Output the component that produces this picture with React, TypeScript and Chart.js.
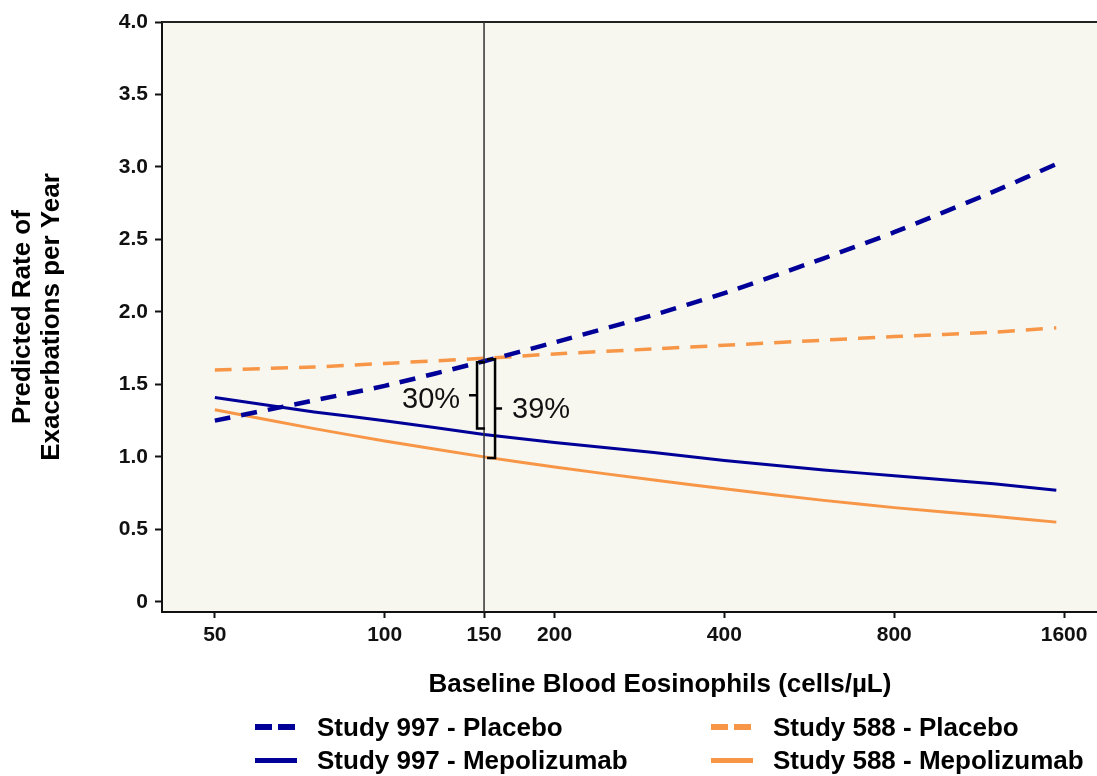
import React, { useEffect, useRef } from "react";
import { Chart, registerables } from "chart.js";

Chart.register(...registerables);

// ---- data ----
const eosinophils = [50, 75, 100, 150, 200, 300, 400, 600, 800, 1200, 1550];
const study997Placebo = [1.25, 1.39, 1.49, 1.66, 1.79, 1.98, 2.13, 2.37, 2.55, 2.83, 3.02];
const study588Placebo = [1.6, 1.62, 1.645, 1.68, 1.71, 1.745, 1.77, 1.805, 1.83, 1.86, 1.89];
const study997Mepolizumab = [1.41, 1.31, 1.25, 1.155, 1.1, 1.03, 0.975, 0.91, 0.87, 0.815, 0.77];
const study588Mepolizumab = [1.325, 1.195, 1.11, 1.0, 0.93, 0.84, 0.78, 0.7, 0.65, 0.59, 0.55];
const xTickValues = [50, 100, 150, 200, 400, 800, 1600];
const yTickValues = [0, 0.5, 1, 1.5, 2, 2.5, 3, 3.5, 4];
const referenceEos = 150;
const reductionLabels = ["30%", "39%"];
const seriesNames = [
  "Study 997 - Placebo",
  "Study 588 - Placebo",
  "Study 997 - Mepolizumab",
  "Study 588 - Mepolizumab",
];
const xTitle = "Baseline Blood Eosinophils (cells/\u00b5L)";
const yTitle = ["Predicted Rate of", "Exacerbations per Year"];

const BLUE = "#000099";
const ORANGE = "#f79646";
const FONT = '"Liberation Sans", Arial, Helvetica, sans-serif';

const toPoints = (ys: number[]) => eosinophils.map((x, i) => ({ x, y: ys[i] }));

const decorPlugin = {
  id: "decor",
  beforeDraw(chart: any) {
    const { ctx, chartArea: a } = chart;
    ctx.save();
    ctx.fillStyle = "#f7f6ef";
    ctx.fillRect(a.left, a.top, a.right - a.left, a.bottom - a.top);
    ctx.restore();
  },
  afterDatasetsDraw(chart: any) {
    const { ctx, chartArea: a, scales } = chart;
    const xs = scales.x;
    const ys = scales.y;
    ctx.save();
    // top frame line
    ctx.strokeStyle = "#222";
    ctx.lineWidth = 2;
    ctx.beginPath();
    ctx.moveTo(a.left, a.top);
    ctx.lineTo(a.right, a.top);
    ctx.stroke();

    // vertical reference line at 150 cells/uL
    const vx = xs.getPixelForValue(referenceEos);
    ctx.strokeStyle = "#333";
    ctx.lineWidth = 1.5;
    ctx.beginPath();
    ctx.moveTo(vx, a.top);
    ctx.lineTo(vx, a.bottom);
    ctx.stroke();

    const i = eosinophils.indexOf(referenceEos);
    ctx.strokeStyle = "#000";
    ctx.lineWidth = 2.5;
    ctx.lineJoin = "miter";

    // left bracket (Study 997)
    const lx = vx - 7;
    const lTop = ys.getPixelForValue(study997Placebo[i]) + 1;
    const lBot = ys.getPixelForValue(study997Mepolizumab[i]) - 6;
    const lMid = (lTop + lBot) / 2;
    ctx.beginPath();
    ctx.moveTo(lx + 8, lTop);
    ctx.lineTo(lx, lTop);
    ctx.lineTo(lx, lBot);
    ctx.lineTo(lx + 8, lBot);
    ctx.moveTo(lx, lMid);
    ctx.lineTo(lx - 8, lMid);
    ctx.stroke();

    // right bracket (Study 588)
    const rx = vx + 11;
    const rTop = ys.getPixelForValue(study588Placebo[i]) + 1;
    const rBot = ys.getPixelForValue(study588Mepolizumab[i]) + 1;
    const rMid = (rTop + rBot) / 2;
    ctx.beginPath();
    ctx.moveTo(rx - 8, rTop);
    ctx.lineTo(rx, rTop);
    ctx.lineTo(rx, rBot);
    ctx.lineTo(rx - 8, rBot);
    ctx.moveTo(rx, rMid);
    ctx.lineTo(rx + 7, rMid);
    ctx.stroke();

    ctx.fillStyle = "#111";
    ctx.font = `29px ${FONT}`;
    ctx.textBaseline = "middle";
    ctx.textAlign = "right";
    ctx.fillText(reductionLabels[0], lx - 17, lMid + 5);
    ctx.textAlign = "left";
    ctx.fillText(reductionLabels[1], rx + 17, rMid + 1);
    ctx.restore();
  },
};

const legendItems = [
  { label: seriesNames[0], color: BLUE, dashed: true, left: 255, top: 727 },
  { label: seriesNames[1], color: ORANGE, dashed: true, left: 711, top: 727 },
  { label: seriesNames[2], color: BLUE, dashed: false, left: 255, top: 760 },
  { label: seriesNames[3], color: ORANGE, dashed: false, left: 711, top: 760 },
];

export default function App() {
  const canvasRef = useRef<HTMLCanvasElement | null>(null);

  useEffect(() => {
    const canvas = canvasRef.current;
    if (!canvas) return;
    const chart = new Chart(canvas, {
      type: "line",
      data: {
        datasets: [
          {
            label: seriesNames[0],
            data: toPoints(study997Placebo),
            borderColor: BLUE,
            borderWidth: 4.5,
            borderDash: [16, 11],
            pointRadius: 0,
          },
          {
            label: seriesNames[1],
            data: toPoints(study588Placebo),
            borderColor: ORANGE,
            borderWidth: 3.5,
            borderDash: [17, 11],
            pointRadius: 0,
          },
          {
            label: seriesNames[2],
            data: toPoints(study997Mepolizumab),
            borderColor: BLUE,
            borderWidth: 3,
            pointRadius: 0,
          },
          {
            label: seriesNames[3],
            data: toPoints(study588Mepolizumab),
            borderColor: ORANGE,
            borderWidth: 3,
            pointRadius: 0,
          },
        ],
      },
      options: {
        responsive: false,
        animation: false,
        parsing: true,
        layout: { padding: { left: 0, right: 0, top: 22, bottom: 124 } },
        plugins: {
          legend: { display: false },
          tooltip: { enabled: false },
        },
        elements: { line: { tension: 0.2 }, point: { radius: 0 } },
        scales: {
          x: {
            type: "logarithmic",
            min: 40.3,
            max: 1830,
            afterBuildTicks: (s: any) => {
              s.ticks = xTickValues.map((v) => ({ value: v }));
            },
            afterFit: (s: any) => {
              s.height = 40;
            },
            ticks: {
              autoSkip: false,
              maxRotation: 0,
              padding: 5,
              color: "#111",
              font: { family: FONT, size: 21, weight: "bold" },
              callback: (v: any) => String(v),
            },
            grid: {
              drawOnChartArea: false,
              drawTicks: true,
              tickLength: 6,
              tickColor: "#111",
              tickWidth: 2,
            },
            border: { display: true, color: "#111", width: 2 },
          },
          y: {
            type: "linear",
            min: -0.07,
            max: 4.0,
            afterBuildTicks: (s: any) => {
              s.ticks = yTickValues.map((v) => ({ value: v }));
            },
            afterFit: (s: any) => {
              s.width = 162;
            },
            ticks: {
              autoSkip: false,
              padding: 7,
              color: "#111",
              font: { family: FONT, size: 21, weight: "bold" },
              callback: (v: any) => (Number(v) === 0 ? "0" : Number(v).toFixed(1)),
            },
            grid: {
              drawOnChartArea: false,
              drawTicks: true,
              tickLength: 7,
              tickColor: "#111",
              tickWidth: 2,
            },
            border: { display: true, color: "#111", width: 2 },
            title: {
              display: true,
              text: yTitle,
              color: "#000",
              font: { family: FONT, size: 26, weight: "bold", lineHeight: 1.12 },
              padding: { top: 8.5, bottom: 0 },
            },
          },
        },
      },
      plugins: [decorPlugin],
    } as any);
    return () => chart.destroy();
  }, []);

  return (
    <div
      style={{
        position: "absolute",
        left: 0,
        top: 0,
        width: 1097,
        height: 776,
        background: "#fff",
        fontFamily: FONT,
        overflow: "hidden",
      }}
    >
      <canvas ref={canvasRef} width={1097} height={776} style={{ display: "block", width: 1097, height: 776 }} />
      <div
        style={{
          position: "absolute",
          left: 360,
          width: 600,
          top: 668,
          height: 30,
          lineHeight: "30px",
          textAlign: "center",
          fontSize: 26,
          fontWeight: "bold",
          color: "#000",
          whiteSpace: "nowrap",
        }}
      >
        {xTitle}
      </div>
      {legendItems.map((it) => (
        <div
          key={it.label}
          style={{
            position: "absolute",
            left: it.left,
            top: it.top - 15,
            height: 30,
            display: "flex",
            alignItems: "center",
            whiteSpace: "nowrap",
          }}
        >
          {it.dashed ? (
            <div style={{ display: "flex", width: 40, justifyContent: "space-between" }}>
              <div style={{ width: 17, height: 6, background: it.color }} />
              <div style={{ width: 17, height: 6, background: it.color }} />
            </div>
          ) : (
            <div style={{ width: 42, height: 5, background: it.color }} />
          )}
          <span
            style={{
              marginLeft: it.dashed ? 22 : 20,
              fontSize: 26,
              fontWeight: "bold",
              color: "#000",
              lineHeight: "30px",
            }}
          >
            {it.label}
          </span>
        </div>
      ))}
    </div>
  );
}
